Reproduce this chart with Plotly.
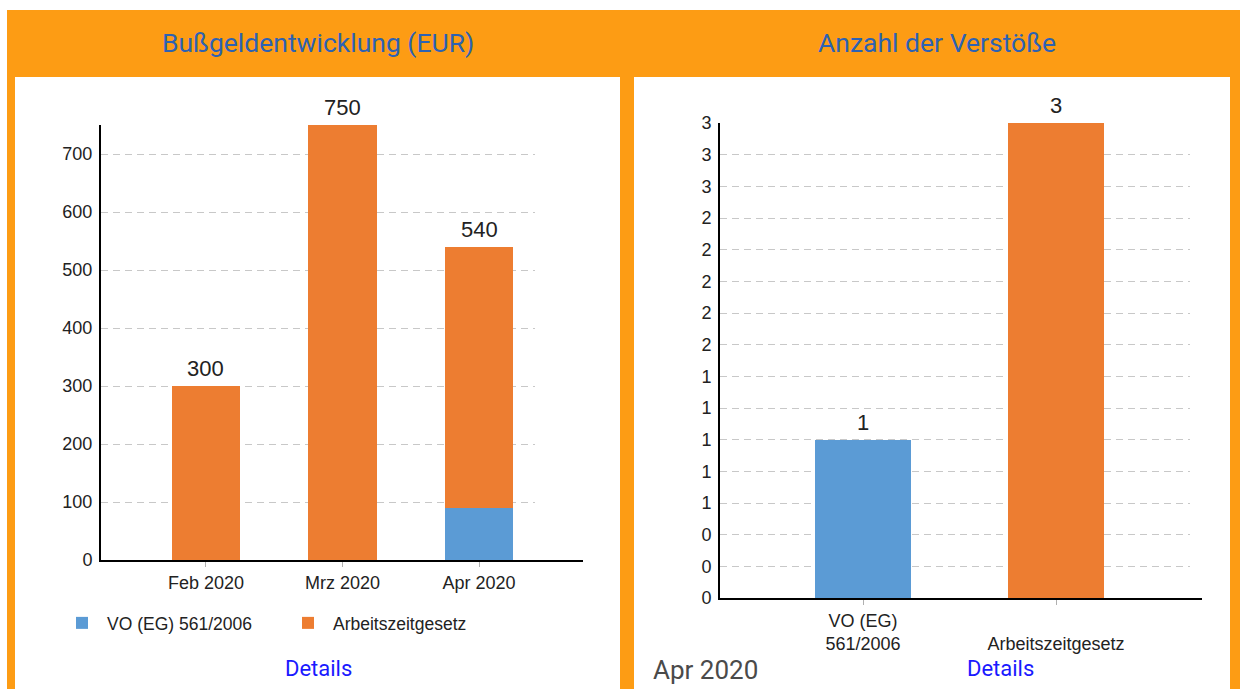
import plotly.graph_objects as go

# ---------------- data ----------------
months = ["Feb 2020", "Mrz 2020", "Apr 2020"]
vo_fines = [0, 0, 90]          # VO (EG) 561/2006
azg_fines = [300, 750, 450]    # Arbeitszeitgesetz
fine_totals = [v + a for v, a in zip(vo_fines, azg_fines)]

violation_cats = ["VO (EG) 561/2006", "Arbeitszeitgesetz"]
violation_counts = [1, 3]
violation_tick_text = ["VO (EG)<br>561/2006", "\u00a0<br>Arbeitszeitgesetz"]
count_tick_vals = [0, 0.2, 0.4, 0.6, 0.8, 1.0, 1.2, 1.4, 1.6, 1.8, 2.0, 2.2, 2.4, 2.6, 2.8, 3.0]
count_tick_text = ["0", "0", "0", "1", "1", "1", "1", "1", "2", "2", "2", "2", "2", "3", "3", "3"]

BLUE = "#5b9bd5"
ORANGE = "#ed7d31"
FRAME = "#fd9c14"
TITLE_C = "#2d62b3"
LINK_C = "#1a1aff"
TXT = "#222222"
FONT = "Liberation Sans, Arial"

W, H = 1245, 689


def px(x):
    return x / W


def py(y):
    return 1 - y / H


fig = go.Figure()

# ---- left chart: stacked fines ----
fig.add_trace(go.Bar(
    x=months, y=vo_fines, name="VO (EG) 561/2006",
    marker=dict(color=BLUE, line=dict(width=0)), width=0.5,
    xaxis="x", yaxis="y",
))
fig.add_trace(go.Bar(
    x=months, y=azg_fines, name="Arbeitszeitgesetz",
    marker=dict(color=ORANGE, line=dict(width=0)), width=0.5,
    xaxis="x", yaxis="y",
))

# ---- right chart: violation counts ----
fig.add_trace(go.Bar(
    x=violation_cats[:1], y=violation_counts[:1], name=violation_cats[0],
    marker=dict(color=BLUE, line=dict(width=0)), width=0.5,
    showlegend=False, xaxis="x2", yaxis="y2",
))
fig.add_trace(go.Bar(
    x=violation_cats[1:], y=violation_counts[1:], name=violation_cats[1],
    marker=dict(color=ORANGE, line=dict(width=0)), width=0.5,
    showlegend=False, xaxis="x2", yaxis="y2",
))

# value labels above bars (from data)
value_labels = []
for m, t in zip(months, fine_totals):
    value_labels.append(dict(text=str(t), x=m, y=t, xref="x", yref="y",
                             xanchor="center", yanchor="bottom", yshift=3, showarrow=False,
                             font=dict(size=22, color=TXT, family=FONT)))
for c, v in zip(violation_cats, violation_counts):
    value_labels.append(dict(text=str(v), x=c, y=v, xref="x2", yref="y2",
                             xanchor="center", yanchor="bottom", yshift=3, showarrow=False,
                             font=dict(size=22, color=TXT, family=FONT)))

# layout geometry (pixels)
L_AX_X0, L_GRID_X1, L_AX_X1 = 101, 535, 583
L_Y0, L_Y1 = 560, 125
R_AX_X0, R_GRID_X1, R_AX_X1 = 720, 1190, 1202
R_Y0, R_Y1 = 598, 123

tickfont = dict(size=18, color=TXT, family=FONT)
grid = dict(showgrid=True, gridcolor="#c8c8c8", gridwidth=1.2, griddash="7px,5px")

fig.update_layout(
    width=W, height=H,
    margin=dict(l=0, r=0, t=0, b=0),
    paper_bgcolor="white", plot_bgcolor="rgba(0,0,0,0)",
    barmode="stack",
    font=dict(family=FONT, color=TXT),
    xaxis=dict(
        domain=[px(L_AX_X0), px(L_GRID_X1)], anchor="y",
        type="category", range=[-0.769, 2.41],
        showline=True, linecolor="black", linewidth=2,
        ticks="outside", ticklen=5, tickcolor="#b0b0b0", tickwidth=1,
        tickfont=tickfont, showgrid=False, ticklabelstandoff=0, automargin=False,
    ),
    yaxis=dict(
        domain=[py(L_Y0), py(L_Y1)], anchor="x",
        range=[0, 750], dtick=100, tick0=0,
        showline=True, linecolor="black", linewidth=2,
        ticks="", tickfont=tickfont, zeroline=False, ticklabelstandoff=3,
        automargin=False, **grid,
    ),
    xaxis2=dict(
        domain=[px(R_AX_X0), px(R_GRID_X1)], anchor="y2",
        type="category", range=[-0.741, 1.694],
        tickvals=violation_cats, ticktext=violation_tick_text,
        showline=True, linecolor="black", linewidth=2,
        ticks="outside", ticklen=5, tickcolor="#b0b0b0", tickwidth=1,
        tickfont=tickfont, showgrid=False, ticklabelstandoff=0, automargin=False,
    ),
    yaxis2=dict(
        domain=[py(R_Y0), py(R_Y1)], anchor="x2",
        range=[0, 3], tickvals=count_tick_vals, ticktext=count_tick_text,
        showline=True, linecolor="black", linewidth=2,
        ticks="", tickfont=tickfont, zeroline=False, ticklabelstandoff=3,
        automargin=False, **grid,
    ),
    showlegend=True,
    legend=dict(
        orientation="h", x=px(57), y=py(623), xanchor="left", yanchor="middle",
        font=dict(size=17.5, color=TXT, family=FONT),
        itemwidth=40, entrywidth=171, entrywidthmode="pixels",
        bgcolor="rgba(0,0,0,0)", traceorder="normal",
    ),
    shapes=[
        dict(type="rect", xref="paper", yref="paper", x0=px(7), x1=px(1240), y0=py(10), y1=py(700),
             fillcolor=FRAME, line=dict(width=0), layer="below"),
        dict(type="rect", xref="paper", yref="paper", x0=px(15), x1=px(620), y0=py(77), y1=py(700),
             fillcolor="white", line=dict(width=0), layer="below"),
        dict(type="rect", xref="paper", yref="paper", x0=px(634), x1=px(1230), y0=py(77), y1=py(700),
             fillcolor="white", line=dict(width=0), layer="below"),
        # x-axis line continuation beyond the grid area (axis line sits 1px below the plot edge)
        dict(type="line", xref="paper", yref="paper", x0=px(L_GRID_X1), x1=px(L_AX_X1),
             y0=py(L_Y0 + 1), y1=py(L_Y0 + 1), line=dict(color="black", width=2)),
        dict(type="line", xref="paper", yref="paper", x0=px(R_GRID_X1), x1=px(R_AX_X1),
             y0=py(R_Y0 + 1), y1=py(R_Y0 + 1), line=dict(color="black", width=2)),
    ],
    annotations=value_labels + [
        dict(text="Bußgeldentwicklung (EUR)", xref="paper", yref="paper", x=px(318), y=py(43),
             xanchor="center", yanchor="middle", showarrow=False,
             font=dict(family="Roboto", size=26.5, color=TITLE_C)),
        dict(text="Anzahl der Verstöße", xref="paper", yref="paper", x=px(937), y=py(42),
             xanchor="center", yanchor="middle", showarrow=False,
             font=dict(family="Roboto", size=26.5, color=TITLE_C)),
        dict(text="Details", xref="paper", yref="paper", x=px(318), y=py(668),
             xanchor="center", yanchor="middle", showarrow=False,
             font=dict(family="Roboto", size=22, color=LINK_C)),
        dict(text="Details", xref="paper", yref="paper", x=px(1000), y=py(668),
             xanchor="center", yanchor="middle", showarrow=False,
             font=dict(family="Roboto", size=22, color=LINK_C)),
        dict(text="Apr 2020", xref="paper", yref="paper", x=px(651), y=py(670),
             xanchor="left", yanchor="middle", showarrow=False,
             font=dict(family="Roboto", size=26, color="#4a4a4a")),
    ],
)

fig.write_html("out.html")
